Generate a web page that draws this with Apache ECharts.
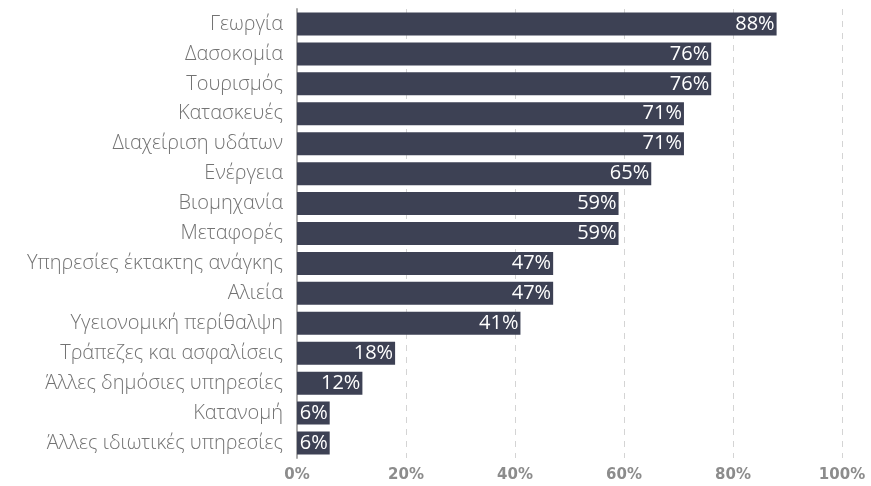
<!DOCTYPE html>
<html>
<head>
<meta charset="utf-8">
<script src="https://cdn.jsdelivr.net/npm/echarts@6/dist/echarts.min.js"></script>
<style>
html,body{margin:0;padding:0;background:#fff;}
#chart{width:871px;height:486px;}
</style>
</head>
<body>
<div id="chart"></div>
<script>
const categories = [
  "Γεωργία",
  "Δασοκομία",
  "Τουρισμός",
  "Κατασκευές",
  "Διαχείριση υδάτων",
  "Ενέργεια",
  "Βιομηχανία",
  "Μεταφορές",
  "Υπηρεσίες έκτακτης ανάγκης",
  "Αλιεία",
  "Υγειονομική περίθαλψη",
  "Τράπεζες και ασφαλίσεις",
  "Άλλες δημόσιες υπηρεσίες",
  "Κατανομή",
  "Άλλες ιδιωτικές υπηρεσίες"
];
const values = [88, 76, 76, 71, 71, 65, 59, 59, 47, 47, 41, 18, 12, 6, 6];
const xTicks = [0, 20, 40, 60, 80, 100];

const chart = echarts.init(document.getElementById('chart'));
chart.setOption({
  animation: false,
  grid: { left: 297, right: 29, top: 9, bottom: 28, containLabel: false },
  xAxis: {
    type: 'value',
    min: xTicks[0],
    max: xTicks[xTicks.length - 1],
    interval: 20,
    axisLine: { show: false },
    axisTick: { show: false },
    splitLine: { show: true, lineStyle: { type: [6, 6], color: '#d4d4d4', width: 1 } },
    axisLabel: {
      formatter: v => v + '%',
      color: '#8c8c8c',
      fontWeight: 'bold',
      fontSize: 15,
      fontFamily: 'DejaVu Sans',
      margin: 10
    }
  },
  yAxis: {
    type: 'category',
    data: categories,
    inverse: true,
    axisLine: { show: true, lineStyle: { color: '#aaaaaa', width: 2 } },
    axisTick: { show: false },
    axisLabel: {
      color: '#737373',
      fontSize: 20,
      fontFamily: 'Open Sans',
      fontWeight: 300,
      margin: 14
    }
  },
  series: [{
    type: 'bar',
    data: values,
    barWidth: 23,
    itemStyle: { color: '#3d4154' },
    label: {
      show: true,
      position: 'insideRight',
      formatter: p => p.value + '%',
      color: '#ffffff',
      fontSize: 20,
      fontFamily: 'Open Sans',
      distance: 2
    }
  }]
});
</script>
</body>
</html>
